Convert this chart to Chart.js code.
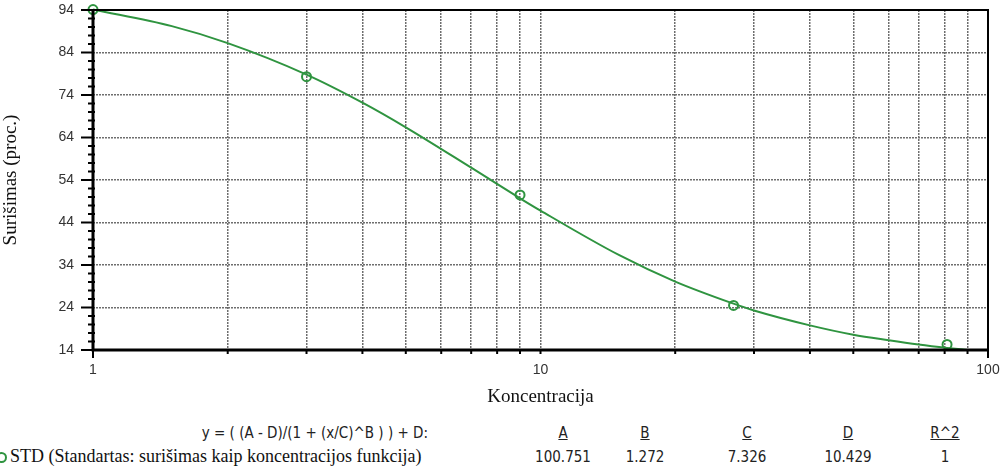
<!DOCTYPE html>
<html>
<head>
<meta charset="utf-8">
<script src="https://cdn.jsdelivr.net/npm/chart.js@4"></script>
<style>
  html, body { margin: 0; padding: 0; background: #fff; }
  #wrap { position: relative; width: 1005px; height: 471px; overflow: hidden; }
  #box { position: absolute; left: 0; top: 0; width: 1005px; height: 410px; }
  .narrow { font-family: "Liberation Sans Narrow", "DejaVu Sans Condensed", "Liberation Sans", sans-serif; font-stretch: condensed; color: #222; }
  .cell { position: absolute; font-size: 15px; transform: translateX(-50%); white-space: nowrap; }
  .hdr { text-decoration: underline; }
  #eq { position: absolute; top: 424px; right: 577px; font-size: 15px; white-space: nowrap; }
  #leg { position: absolute; left: 10px; top: 446px; font-family: "Liberation Serif", serif; font-size: 18px; color: #111; white-space: nowrap; }
  #mark { position: absolute; left: -4px; top: 452px; width: 7px; height: 7px; border: 2px solid #2f9440; border-radius: 50%; }
</style>
</head>
<body>
<div id="wrap">
  <div id="box"><canvas id="chart"></canvas></div>
  <div id="eq" class="narrow">y = ( (A - D)/(1 + (x/C)^B ) ) + D:</div>
  <div id="mark"></div>
  <div id="leg">STD (Standartas: surišimas kaip koncentracijos funkcija)</div>
  <div id="params"></div>
</div>
<script>
// standard points
const stdX = [1, 3, 9, 27, 81];
const stdY = [94.1, 78.3, 50.5, 24.5, 15.3];

// fitted curve
const curveX = [1, 1.5, 2, 3, 4, 5, 7, 9, 10, 15, 20, 27, 30, 40, 50, 60, 70, 81, 90];
const curveY = [94.1, 90.2, 86.2, 78.8, 72.2, 66.4, 56.9, 49.7, 46.8, 36.3, 30.1, 24.9, 23.3, 19.8, 17.6, 16.3, 15.3, 14.5, 14.0];

// axis ticks
const xTicks = [1, 2, 3, 4, 5, 6, 7, 8, 9, 10, 20, 30, 40, 50, 60, 70, 80, 90, 100];
const xLabels = [1, 10, 100];
const yMin = 14, yMax = 94;

// fit table
const paramNames = ['A', 'B', 'C', 'D', 'R^2'];
const paramValues = ['100.751', '1.272', '7.326', '10.429', '1'];
const paramCols = [563, 645, 747, 848, 945];

const GREEN = '#2f9440';

const params = document.getElementById('params');
paramNames.forEach((n, i) => {
    const h = document.createElement('div');
    h.className = 'cell narrow hdr';
    h.style.left = paramCols[i] + 'px';
    h.style.top = '424px';
    h.textContent = n;
    params.appendChild(h);
    const v = document.createElement('div');
    v.className = 'cell narrow';
    v.style.left = paramCols[i] + 'px';
    v.style.top = '448px';
    v.textContent = paramValues[i];
    params.appendChild(v);
});

// frame + tick marks
const framePlugin = {
    id: 'frame',
    afterDatasetsDraw(chart) {
        const { ctx, chartArea: a, scales } = chart;
        ctx.save();
        ctx.strokeStyle = '#000';
        // y ticks
        ctx.lineWidth = 2;
        scales.y.ticks.forEach(t => {
            const p = scales.y.getPixelForValue(t.value);
            const major = (t.value - yMin) % 10 === 0;
            ctx.beginPath();
            ctx.moveTo(a.left - (major ? 12 : 5), p);
            ctx.lineTo(a.left + (major ? 1 : 2), p);
            ctx.stroke();
        });
        // x ticks
        scales.x.ticks.forEach(t => {
            const p = scales.x.getPixelForValue(t.value);
            ctx.beginPath();
            ctx.moveTo(p, a.bottom);
            ctx.lineTo(p, a.bottom + (t.value === 1 || t.value === 100 ? 8 : 4));
            ctx.stroke();
        });
        // box
        ctx.lineWidth = 2;
        ctx.strokeRect(a.left, a.top, a.right - a.left, a.bottom - a.top);
        ctx.lineWidth = 3;
        ctx.beginPath();
        ctx.moveTo(a.left, a.top);
        ctx.lineTo(a.left, a.bottom);
        ctx.lineTo(a.right, a.bottom);
        ctx.stroke();
        ctx.restore();
    }
};

new Chart(document.getElementById('chart'), {
    type: 'scatter',
    data: {
        datasets: [{
            label: 'curve',
            data: curveX.map((x, i) => ({ x: x, y: curveY[i] })),
            showLine: true,
            borderColor: GREEN,
            borderWidth: 2,
            pointRadius: 0,
            cubicInterpolationMode: 'monotone',
            clip: 6
        }, {
            label: 'STD',
            data: stdX.map((x, i) => ({ x: x, y: stdY[i] })),
            borderColor: GREEN,
            backgroundColor: 'rgba(0,0,0,0)',
            borderWidth: 2,
            pointRadius: 4.5,
            clip: 8
        }]
    },
    options: {
        responsive: true,
        maintainAspectRatio: false,
        animation: false,
        layout: { padding: { left: 0, top: 10, right: 17, bottom: 0 } },
        plugins: { legend: { display: false }, tooltip: { enabled: false } },
        scales: {
            x: {
                type: 'logarithmic',
                min: 1,
                max: 100,
                afterBuildTicks: s => { s.ticks = xTicks.map(v => ({ value: v })); },
                afterFit: s => { s.height = 60; s.paddingLeft = 0; s.paddingRight = 0; },
                ticks: {
                    autoSkip: false,
                    maxRotation: 0,
                    padding: 4,
                    color: '#333',
                    font: { family: 'Liberation Sans', size: 14 },
                    callback: v => xLabels.includes(v) ? String(v) : ''
                },
                grid: {
                    color: c => (c.tick && (c.tick.value === 1 || c.tick.value === 100)) ? 'rgba(0,0,0,0)' : '#6e6e6e',
                    lineWidth: 1.5,
                    tickColor: 'rgba(0,0,0,0)',
                    tickLength: 8
                },
                border: { display: false, dash: [2, 1] },
                title: {
                    display: true,
                    text: 'Koncentracija',
                    color: '#111',
                    font: { family: 'Liberation Serif', size: 19 },
                    padding: { top: 0, bottom: 2 }
                }
            },
            y: {
                min: yMin,
                max: yMax,
                afterFit: s => { s.width = 93; s.paddingTop = 0; s.paddingBottom = 0; },
                ticks: {
                    stepSize: 2,
                    autoSkip: false,
                    padding: 8,
                    color: '#333',
                    font: { family: 'Liberation Sans', size: 14 },
                    callback: v => ((v - yMin) % 10 === 0 ? String(v) : '')
                },
                grid: {
                    color: c => (c.tick && (c.tick.value - yMin) % 10 === 0 && c.tick.value !== yMin && c.tick.value !== yMax) ? '#6e6e6e' : 'rgba(0,0,0,0)',
                    lineWidth: 1.5,
                    tickColor: 'rgba(0,0,0,0)',
                    tickLength: 11
                },
                border: { display: false, dash: [2, 1] },
                title: {
                    display: true,
                    text: 'Surišimas (proc.)',
                    color: '#111',
                    font: { family: 'Liberation Serif', size: 19 },
                    padding: { top: 0, bottom: 0 }
                }
            }
        }
    },
    plugins: [framePlugin]
});
</script>
</body>
</html>
